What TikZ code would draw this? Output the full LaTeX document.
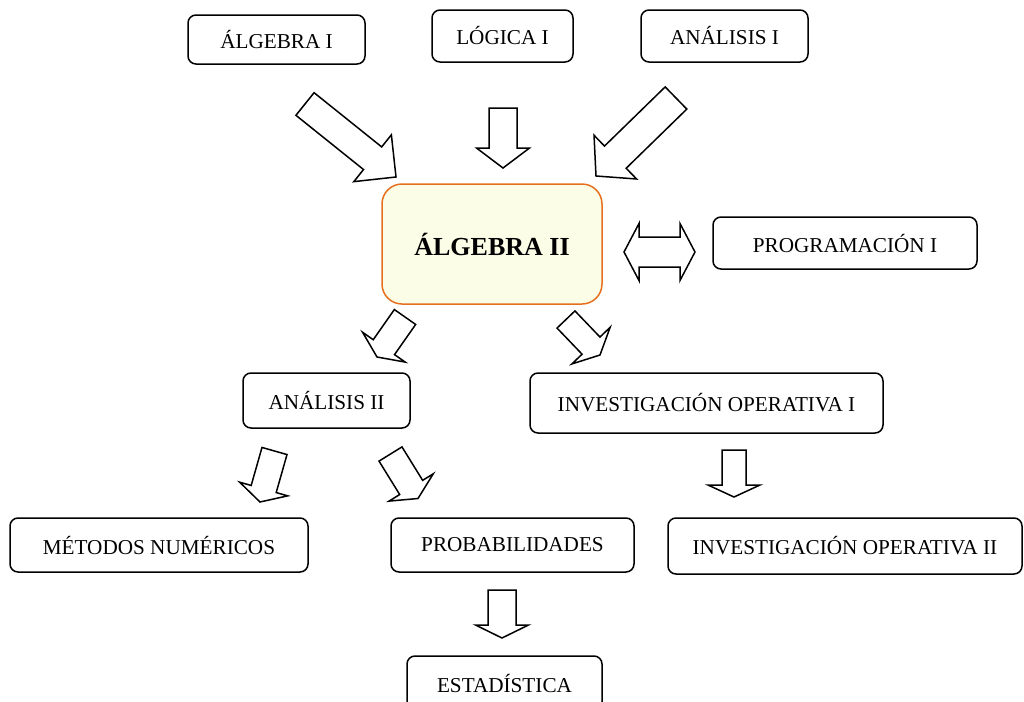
\documentclass[tikz,border=0pt]{standalone}
\usepackage{fontspec}
\setmainfont{Liberation Serif}
\usetikzlibrary{calc}

\definecolor{bordeN}{RGB}{228,112,30}
\definecolor{cremaN}{RGB}{251,253,231}

\tikzset{
  materia/.style={draw, rounded corners=4pt, line width=0.75pt, inner sep=0pt,
    font=\fontsize{10.6}{12}\selectfont},
  central/.style={materia, draw=bordeN, fill=cremaN, rounded corners=10pt,
    font=\fontsize{13}{15}\selectfont\bfseries},
  flecha/.style={draw, line width=0.75pt, fill=white, line join=miter},
}

% block arrow: tail, tip, shaft half, head half, head length
\newcommand{\flechota}[5]{%
  \coordinate (fb) at ($(#2)!#5!(#1)$);
  \draw[flecha] ($(#1)!#3!90:(#2)$) -- ($(fb)!#3!90:(#2)$) -- ($(fb)!#4!90:(#2)$)
    -- (#2) -- ($(fb)!#4!-90:(#2)$) -- ($(fb)!#3!-90:(#2)$) -- ($(#1)!#3!-90:(#2)$) -- cycle;
}
% double block arrow: end, end, shaft half, head half, head length
\newcommand{\flechadoble}[5]{%
  \coordinate (fa) at ($(#1)!#5!(#2)$);
  \coordinate (fb) at ($(#2)!#5!(#1)$);
  \draw[flecha] (#1) -- ($(fa)!#4!90:(#2)$) -- ($(fa)!#3!90:(#2)$) -- ($(fb)!#3!90:(#2)$)
    -- ($(fb)!#4!90:(#2)$) -- (#2) -- ($(fb)!#4!-90:(#2)$) -- ($(fb)!#3!-90:(#2)$)
    -- ($(fa)!#3!-90:(#2)$) -- ($(fa)!#4!-90:(#2)$) -- cycle;
}

\begin{document}
\begin{tikzpicture}[x=0.5pt, y=-0.5pt]
  \useasboundingbox (0,0) rectangle (1024,702);
  \clip (0,0) rectangle (1024,702);

  % top row
  \node[materia, minimum width=88.5pt, minimum height=24.5pt] (alg1) at (276.5,39.5) {ÁLGEBRA I};
  \node[materia, minimum width=70.5pt, minimum height=26pt] (log1) at (502.5,36) {LÓGICA I};
  \node[materia, minimum width=83.5pt, minimum height=26pt] (an1) at (724.5,36) {ANÁLISIS I};

  % centre
  \node[central, minimum width=110pt, minimum height=60pt] (alg2) at (492,244) {ÁLGEBRA II};
  \node[materia, minimum width=132pt, minimum height=26pt] (prog1) at (845,243) {PROGRAMACIÓN I};

  % middle row
  \node[materia, minimum width=83.5pt, minimum height=27.5pt] (an2) at (326.5,400.5) {ANÁLISIS II};
  \node[materia, minimum width=176.5pt, minimum height=30pt] (io1) at (706.5,403) {INVESTIGACIÓN OPERATIVA I};

  % bottom rows
  \node[materia, minimum width=149pt, minimum height=27pt] (mn) at (159,545) {MÉTODOS NUMÉRICOS};
  \node[materia, minimum width=121.5pt, minimum height=27pt] (prob) at (512.5,545) {PROBABILIDADES};
  \node[materia, minimum width=177pt, minimum height=28pt] (io2) at (845,546) {INVESTIGACIÓN OPERATIVA II};
  \node[materia, minimum width=97.5pt, minimum height=27pt] (est) at (504.5,683) {ESTADÍSTICA};

  % arrow ends
  \coordinate (c1a) at (305,104);   \coordinate (c1b) at (396,177);
  \coordinate (c2a) at (503,108);   \coordinate (c2b) at (503,168);
  \coordinate (c3a) at (676,98);    \coordinate (c3b) at (596,176);
  \coordinate (c4a) at (405,317);   \coordinate (c4b) at (377,357);
  \coordinate (c5a) at (566,319.5); \coordinate (c5b) at (600,355);
  \coordinate (c6a) at (274.5,451); \coordinate (c6b) at (260,502);
  \coordinate (c7a) at (390.5,454); \coordinate (c7b) at (418,498.5);
  \coordinate (c8a) at (734,450);   \coordinate (c8b) at (734,497);
  \coordinate (c9a) at (502,590);   \coordinate (c9b) at (502,638);
  \coordinate (dda) at (624,252);   \coordinate (ddb) at (695,252);

  \flechota{c1a}{c1b}{7.25pt}{15pt}{15pt}
  \flechota{c2a}{c2b}{7pt}{13.25pt}{10pt}
  \flechota{c3a}{c3b}{7.75pt}{15.25pt}{13.5pt}
  \flechota{c4a}{c4b}{6.5pt}{13pt}{6pt}
  \flechota{c5a}{c5b}{6.2pt}{13.25pt}{6.5pt}
  \flechota{c6a}{c6b}{6.5pt}{12.5pt}{6.75pt}
  \flechota{c7a}{c7b}{6.75pt}{13pt}{6.5pt}
  \flechota{c8a}{c8b}{6pt}{13pt}{6pt}
  \flechota{c9a}{c9b}{7pt}{13.25pt}{6.5pt}
  \flechadoble{dda}{ddb}{7.5pt}{14.25pt}{7.5pt}

\end{tikzpicture}
\end{document}
